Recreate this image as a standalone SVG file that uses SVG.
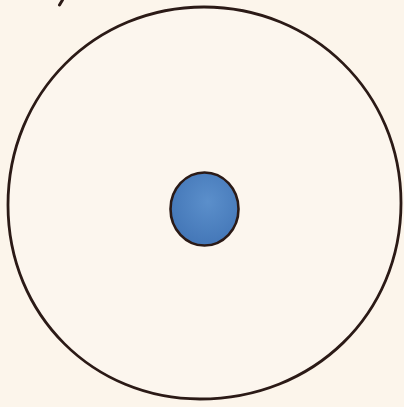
<svg xmlns="http://www.w3.org/2000/svg" width="404" height="407" viewBox="0 0 404 407">
<style>
.ink{stroke:#2b1a16;stroke-linecap:round;stroke-linejoin:round}
</style>
<defs>
<radialGradient id="blue" cx="0.55" cy="0.4" r="0.65">
<stop offset="0" stop-color="#5b8fcb"/>
<stop offset="1" stop-color="#4275b6"/>
</radialGradient>
</defs>
<rect width="404" height="407" fill="#fcf5eb"/>
<path class="ink" d="M62.5 0 L59.5 5" fill="none" stroke-width="3"/>
<g id="outer">
<path class="ink" fill="#fcf6ee" stroke-width="2.8" d="M204 7 C312 7 401 92 401 203 C401 314 314 399 200 399 C94 399 8 316 8 205 C8 92 96 7 204 7 Z"/>
</g>
<g id="inner">
<ellipse class="ink" cx="204.5" cy="209" rx="34" ry="36.5" fill="url(#blue)" stroke-width="2.6"/>
</g>
</svg>
